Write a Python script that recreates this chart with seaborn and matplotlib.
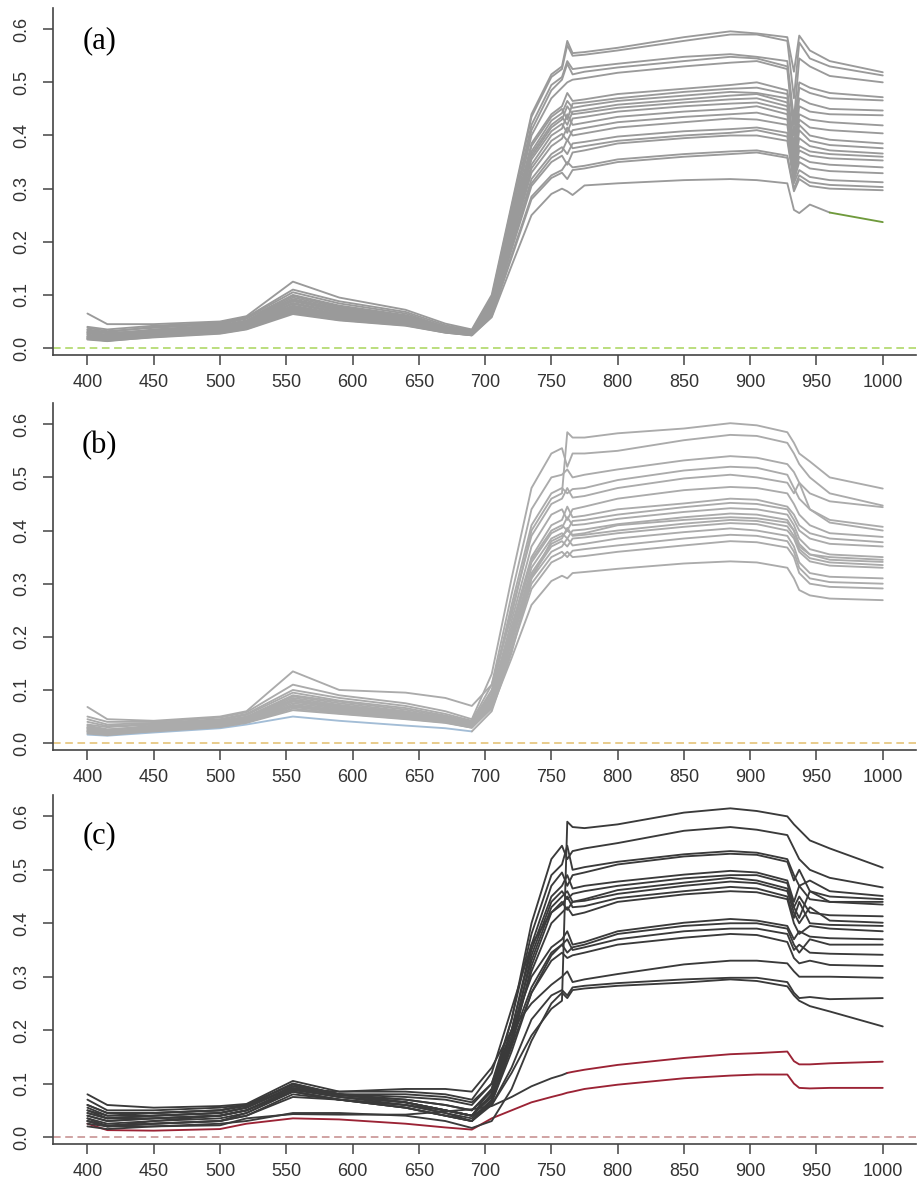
import matplotlib
matplotlib.use("Agg")
import matplotlib.pyplot as plt
import seaborn as sns

# wavelength grid (nm) shared by every spectrum
WAVE = [400, 415, 450, 500, 520, 555, 590, 640, 670, 690,
        705, 720, 735, 750, 758, 762, 766, 775,
        800, 850, 885, 905, 928, 933, 937, 945, 960, 1000]

# panel (a) reflectance curves
SPECTRA_A = [
    [.065, .045, .045, .050, .060, .125, .095, .072, .046, .035, .100, .270, .440, .515, .530, .578, .555, .557, .565, .585, .596, .592, .585, .520, .588, .560, .540, .519],
    [.040, .035, .042, .048, .058, .110, .088, .068, .043, .033, .095, .265, .435, .510, .525, .570, .550, .552, .560, .578, .590, .590, .578, .470, .575, .545, .530, .513],
    [.035, .030, .040, .047, .057, .105, .084, .065, .040, .031, .090, .255, .420, .495, .510, .540, .525, .528, .535, .548, .553, .548, .540, .430, .545, .530, .512, .500],
    [.038, .032, .038, .045, .055, .100, .080, .062, .040, .031, .090, .250, .410, .485, .505, .535, .515, .520, .528, .540, .548, .545, .530, .420, .500, .490, .480, .472],
    [.030, .025, .035, .043, .052, .098, .078, .060, .038, .030, .085, .240, .400, .470, .490, .500, .505, .508, .518, .530, .537, .540, .525, .400, .490, .480, .470, .466],
    [.032, .028, .034, .042, .050, .095, .076, .058, .036, .029, .085, .235, .385, .440, .455, .480, .465, .468, .478, .488, .495, .500, .485, .380, .470, .460, .450, .447],
    [.028, .024, .032, .040, .049, .092, .074, .057, .036, .029, .080, .230, .380, .435, .450, .430, .460, .462, .470, .482, .488, .490, .478, .370, .455, .445, .440, .438],
    [.034, .028, .033, .040, .048, .090, .072, .055, .035, .028, .080, .225, .370, .428, .442, .465, .452, .456, .465, .475, .482, .480, .470, .360, .440, .430, .425, .419],
    [.025, .020, .030, .038, .047, .088, .070, .054, .034, .028, .078, .222, .365, .420, .435, .420, .445, .448, .458, .468, .475, .478, .462, .355, .430, .415, .410, .404],
    [.030, .024, .030, .037, .046, .085, .068, .052, .034, .027, .075, .218, .360, .415, .430, .455, .440, .443, .452, .462, .468, .470, .455, .350, .420, .400, .392, .385],
    [.022, .018, .028, .036, .045, .083, .066, .051, .033, .027, .075, .215, .355, .408, .422, .405, .432, .435, .445, .455, .460, .462, .448, .340, .410, .390, .382, .376],
    [.028, .022, .028, .035, .044, .080, .064, .050, .033, .026, .072, .210, .345, .400, .413, .440, .420, .424, .435, .445, .450, .455, .440, .335, .395, .380, .372, .366],
    [.020, .016, .026, .034, .043, .078, .062, .049, .032, .026, .070, .205, .338, .390, .403, .390, .410, .414, .425, .435, .440, .443, .430, .330, .380, .370, .365, .360],
    [.025, .020, .026, .033, .042, .076, .060, .048, .032, .026, .070, .200, .330, .380, .394, .415, .400, .404, .415, .425, .432, .430, .420, .325, .372, .362, .357, .353],
    [.018, .015, .025, .032, .041, .074, .059, .047, .031, .025, .068, .195, .318, .365, .378, .365, .385, .388, .398, .408, .412, .415, .405, .320, .360, .350, .345, .340],
    [.022, .018, .025, .031, .040, .072, .058, .046, .031, .025, .066, .190, .310, .358, .370, .392, .376, .380, .390, .400, .405, .410, .398, .315, .350, .338, .333, .329],
    [.017, .014, .023, .030, .038, .070, .056, .045, .030, .025, .065, .185, .305, .350, .362, .345, .368, .372, .385, .395, .400, .400, .390, .310, .335, .322, .316, .312],
    [.020, .016, .022, .029, .037, .068, .055, .044, .030, .024, .062, .175, .285, .325, .335, .350, .340, .343, .355, .365, .370, .372, .362, .300, .325, .312, .307, .303],
    [.016, .013, .021, .028, .036, .066, .053, .043, .029, .024, .060, .170, .280, .320, .330, .318, .335, .338, .350, .360, .365, .368, .358, .295, .318, .305, .300, .297],
    [.018, .014, .020, .027, .035, .064, .052, .042, .029, .024, .058, .155, .250, .290, .300, .295, .288, .306, .310, .316, .318, .316, .310, .260, .254, .270, .255, .237],
]

# panel (b) reflectance curves (last one is the bluish low-visible curve)
SPECTRA_B = [
    [.068, .045, .042, .050, .060, .135, .100, .095, .085, .070, .110, .240, .400, .460, .470, .585, .575, .575, .583, .592, .602, .598, .585, .565, .545, .530, .500, .479],
    [.050, .040, .040, .048, .058, .110, .090, .075, .060, .045, .130, .310, .480, .545, .555, .520, .545, .545, .550, .570, .580, .578, .565, .545, .525, .500, .470, .447],
    [.045, .035, .038, .045, .055, .100, .085, .070, .055, .042, .110, .280, .440, .500, .505, .515, .500, .505, .515, .532, .540, .537, .525, .510, .490, .470, .455, .444],
    [.040, .032, .036, .044, .053, .095, .080, .066, .052, .040, .100, .260, .410, .470, .480, .470, .478, .480, .495, .513, .520, .518, .505, .480, .460, .440, .420, .407],
    [.035, .030, .035, .042, .050, .090, .078, .063, .050, .038, .095, .250, .390, .450, .460, .480, .462, .465, .480, .498, .505, .500, .490, .470, .490, .440, .415, .400],
    [.030, .025, .033, .040, .048, .088, .075, .060, .048, .036, .090, .230, .370, .430, .440, .420, .440, .445, .460, .476, .482, .480, .470, .450, .430, .410, .395, .388],
    [.028, .024, .032, .040, .047, .085, .072, .058, .046, .035, .085, .220, .350, .410, .420, .445, .425, .428, .440, .451, .460, .458, .445, .430, .410, .395, .385, .378],
    [.033, .026, .030, .038, .046, .082, .070, .057, .045, .034, .085, .210, .345, .400, .410, .400, .418, .420, .430, .444, .452, .450, .440, .420, .400, .385, .375, .370],
    [.025, .020, .030, .037, .045, .080, .068, .055, .044, .033, .080, .210, .340, .395, .405, .425, .410, .412, .422, .435, .442, .440, .430, .410, .385, .365, .355, .350],
    [.030, .022, .028, .036, .044, .078, .066, .054, .043, .032, .080, .200, .330, .385, .395, .385, .400, .402, .412, .425, .432, .430, .420, .400, .375, .355, .345, .341],
    [.022, .018, .027, .035, .043, .075, .064, .052, .042, .032, .078, .200, .320, .375, .385, .405, .390, .392, .400, .413, .420, .418, .408, .390, .365, .348, .340, .335],
    [.027, .020, .026, .034, .042, .072, .062, .050, .041, .031, .075, .190, .315, .370, .380, .370, .385, .387, .395, .407, .414, .412, .400, .385, .360, .342, .334, .330],
    [.020, .016, .025, .033, .041, .070, .060, .049, .040, .030, .072, .190, .310, .360, .370, .385, .372, .375, .385, .397, .404, .400, .390, .370, .340, .320, .313, .310],
    [.024, .018, .024, .032, .040, .068, .058, .048, .040, .030, .070, .180, .300, .350, .360, .350, .362, .365, .372, .385, .392, .390, .380, .360, .330, .310, .303, .300],
    [.018, .015, .023, .031, .039, .065, .056, .046, .039, .029, .068, .175, .290, .340, .350, .360, .350, .352, .360, .372, .380, .378, .368, .350, .320, .300, .294, .291],
    [.022, .017, .022, .030, .038, .062, .055, .045, .038, .029, .065, .160, .260, .305, .315, .310, .320, .322, .328, .338, .342, .340, .330, .310, .288, .278, .272, .269],
    [.016, .014, .020, .028, .035, .050, .042, .033, .028, .022, .060, .170, .310, .380, .390, .400, .392, .395, .410, .420, .425, .423, .415, .400, .370, .355, .350, .345],
]

# panel (c) reflectance curves
SPECTRA_C = [
    [.050, .035, .035, .040, .050, .085, .070, .060, .050, .040, .060, .120, .190, .240, .255, .590, .580, .578, .585, .607, .615, .610, .600, .585, .575, .555, .540, .504],
    [.045, .035, .040, .045, .055, .095, .080, .065, .050, .040, .090, .220, .400, .520, .545, .520, .535, .540, .550, .573, .580, .575, .565, .540, .520, .500, .485, .467],
    [.070, .050, .050, .055, .060, .100, .080, .075, .070, .060, .100, .220, .380, .490, .510, .545, .500, .505, .515, .529, .535, .532, .520, .490, .470, .480, .460, .451],
    [.040, .030, .035, .040, .050, .090, .075, .065, .050, .040, .080, .200, .360, .470, .495, .470, .490, .495, .510, .525, .530, .528, .515, .480, .500, .460, .450, .445],
    [.060, .045, .045, .050, .058, .100, .080, .070, .060, .050, .090, .200, .350, .450, .470, .490, .465, .470, .478, .491, .498, .495, .480, .440, .470, .445, .440, .440],
    [.030, .020, .030, .035, .045, .085, .070, .055, .040, .030, .070, .180, .340, .440, .460, .445, .455, .460, .470, .484, .490, .490, .475, .430, .410, .460, .440, .435],
    [.045, .035, .040, .045, .055, .095, .080, .065, .050, .040, .080, .190, .330, .430, .450, .460, .440, .445, .462, .476, .485, .480, .465, .430, .450, .420, .415, .413],
    [.025, .020, .025, .030, .040, .080, .070, .055, .040, .030, .065, .170, .320, .420, .440, .425, .440, .442, .455, .470, .478, .475, .460, .420, .400, .430, .405, .401],
    [.080, .060, .055, .058, .062, .105, .085, .085, .080, .070, .120, .240, .360, .420, .435, .450, .430, .432, .447, .460, .468, .465, .450, .410, .440, .400, .397, .395],
    [.035, .025, .030, .040, .050, .090, .075, .060, .045, .035, .070, .180, .310, .400, .420, .430, .415, .420, .440, .454, .460, .458, .445, .400, .380, .395, .390, .385],
    [.055, .040, .045, .050, .060, .098, .080, .080, .075, .065, .100, .200, .300, .355, .370, .385, .360, .365, .385, .401, .408, .405, .395, .370, .385, .375, .372, .370],
    [.030, .020, .025, .030, .045, .085, .070, .055, .040, .030, .065, .160, .270, .340, .360, .345, .355, .360, .380, .395, .400, .400, .390, .360, .345, .370, .360, .360],
    [.050, .040, .040, .045, .055, .092, .078, .070, .060, .050, .085, .180, .280, .345, .360, .370, .350, .355, .370, .385, .390, .390, .380, .350, .360, .345, .343, .341],
    [.040, .030, .035, .040, .050, .088, .075, .065, .050, .040, .075, .170, .270, .330, .345, .335, .340, .345, .360, .373, .380, .378, .365, .335, .325, .330, .322, .320],
    [.060, .045, .045, .050, .060, .090, .085, .090, .090, .085, .130, .200, .250, .285, .300, .310, .290, .295, .305, .323, .330, .330, .325, .310, .300, .300, .300, .298],
    [.030, .022, .025, .030, .040, .075, .070, .060, .045, .030, .060, .130, .220, .265, .275, .265, .280, .283, .288, .295, .298, .298, .290, .270, .260, .262, .258, .260],
    [.020, .015, .020, .025, .030, .045, .045, .040, .030, .017, .030, .090, .180, .250, .270, .260, .275, .278, .283, .289, .295, .292, .282, .265, .255, .245, .235, .207],
]

# the two low (red) spectra of panel (c)
RED_UPPER = [.035, .020, .020, .022, .035, .043, .042, .042, .048, .052, .058, .075, .095, .110, .116, .120, .122, .126, .135, .148, .155, .157, .160, .142, .136, .136, .138, .141]
RED_LOWER = [.025, .013, .012, .015, .025, .035, .033, .025, .018, .014, .035, .050, .065, .075, .080, .083, .085, .090, .098, .110, .115, .117, .117, .100, .092, .091, .092, .092]

Y_TICKS = [0.0, 0.1, 0.2, 0.3, 0.4, 0.5, 0.6]
X_TICKS = [400, 450, 500, 550, 600, 650, 700, 750, 800, 850, 900, 950, 1000]

LW = 1.35

sns.set_theme(style="white")
plt.rcParams["font.family"] = ["Liberation Sans", "DejaVu Sans"]


def style_axis(ax, zero_color, tag, tag_y):
    ax.axhline(0, color=zero_color, lw=1.1, ls=(0, (5, 3)), zorder=0.5)
    ax.set_xlim(374, 1025)
    ax.set_ylim(-0.013, 0.64)
    ax.set_xticks(X_TICKS)
    ax.set_xticklabels([str(v) for v in X_TICKS])
    ax.set_yticks(Y_TICKS)
    ax.set_yticklabels([f"{v:.1f}" for v in Y_TICKS], rotation=90, va="center")
    ax.set_xlabel("")
    ax.set_ylabel("")
    for side in ["top", "right"]:
        ax.spines[side].set_visible(False)
    for side in ["left", "bottom"]:
        ax.spines[side].set_color("#444444")
        ax.spines[side].set_linewidth(1.2)
    ax.tick_params(axis="both", direction="out", length=7, width=1.1,
                   color="#444444", labelsize=13, labelcolor="#333333")
    ax.tick_params(axis="x", pad=7, bottom=True)
    ax.tick_params(axis="y", pad=9, left=True)
    ax.text(409, tag_y, tag, fontsize=22, ha="center", va="center",
            family=["Liberation Serif", "DejaVu Serif"], color="black")


def draw_curves(ax, spectra, color):
    for row in spectra:
        sns.lineplot(x=WAVE, y=row, ax=ax, color=color, linewidth=LW,
                     estimator=None, sort=False, legend=False)


def draw_part(ax, xs, ys, color):
    sns.lineplot(x=xs, y=ys, ax=ax, color=color, linewidth=LW,
                 estimator=None, sort=False, legend=False)


fig = plt.figure(figsize=(9.18, 11.86), dpi=100)
ax_a = fig.add_axes([0.0577, 0.7007, 0.940, 0.2926])
ax_b = fig.add_axes([0.0577, 0.3676, 0.940, 0.2926])
ax_c = fig.add_axes([0.0577, 0.0354, 0.940, 0.2943])

# (a)
draw_curves(ax_a, SPECTRA_A[:-1], "#9a9a9a")
low_a = SPECTRA_A[-1]
draw_part(ax_a, WAVE[:27], low_a[:27], "#9a9a9a")
draw_part(ax_a, WAVE[26:], low_a[26:], "#6f9a3c")
style_axis(ax_a, "#a8d45a", "(a)", 0.579)

# (b)
low_b = SPECTRA_B[-1]
draw_part(ax_b, WAVE[:10], low_b[:10], "#a3bdd6")
draw_part(ax_b, WAVE[9:], low_b[9:], "#ababab")
draw_curves(ax_b, SPECTRA_B[:-1], "#ababab")
style_axis(ax_b, "#e3bf6e", "(b)", 0.560)

# (c)
draw_part(ax_c, WAVE, RED_LOWER, "#9b2335")
draw_curves(ax_c, SPECTRA_C, "#3a3a3a")
draw_part(ax_c, WAVE[:16], RED_UPPER[:16], "#3a3a3a")
draw_part(ax_c, WAVE[15:], RED_UPPER[15:], "#9b2335")
style_axis(ax_c, "#c48a8a", "(c)", 0.563)

fig.savefig("out.png", dpi=100)
